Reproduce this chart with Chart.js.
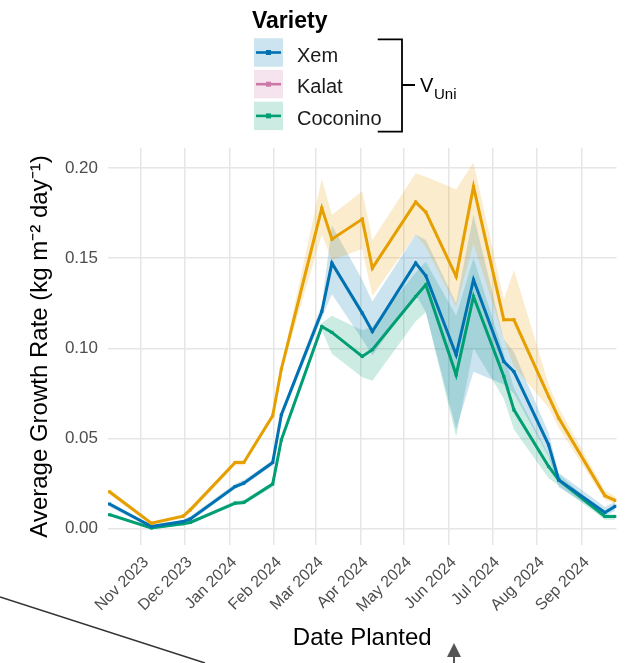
<!DOCTYPE html>
<html>
<head>
<meta charset="utf-8">
<script src="https://cdn.jsdelivr.net/npm/chart.js@4.4.1/dist/chart.umd.min.js"></script>
<style>
  html, body { margin: 0; padding: 0; background: #fff; }
</style>
</head>
<body>
<canvas id="growthChart" width="629" height="663"></canvas>
<script>
// planting dates
const plantDates = ['2023-10-10', '2023-11-08', '2023-11-30', '2023-12-05', '2024-01-05', '2024-01-11',
  '2024-01-31', '2024-02-06', '2024-03-05', '2024-03-12', '2024-04-02', '2024-04-09',
  '2024-05-09', '2024-05-16', '2024-06-06', '2024-06-18', '2024-07-09', '2024-07-16',
  '2024-08-09', '2024-08-16', '2024-09-17', '2024-09-24'];

// orange line (not listed in the legend)
const orangeMean = [0.0205, 0.0031, 0.0070, 0.0105, 0.0367, 0.0367, 0.0626, 0.0885, 0.1777, 0.1605, 0.1716, 0.1444,
  0.1810, 0.1755, 0.1398, 0.1896, 0.1158, 0.1158, 0.0733, 0.0613, 0.0183, 0.0157];
const orangeLow = [0.019, 0.002, 0.006, 0.009, 0.035, 0.035, 0.061, 0.087, 0.163, 0.149, 0.155, 0.129,
  0.163, 0.156, 0.123, 0.158, 0.105, 0.090, 0.067, 0.056, 0.016, 0.014];
const orangeHigh = [0.022, 0.004, 0.008, 0.012, 0.038, 0.038, 0.064, 0.090, 0.194, 0.174, 0.187, 0.160,
  0.197, 0.195, 0.188, 0.203, 0.127, 0.1435, 0.080, 0.067, 0.021, 0.018];

// Xem
const xemMean = [0.0137, 0.0013, 0.0040, 0.0054, 0.0234, 0.0253, 0.0367, 0.0632, 0.1204, 0.1472, 0.1195, 0.1093,
  0.1472, 0.1402, 0.0964, 0.1380, 0.0927, 0.0871, 0.0465, 0.0271, 0.0090, 0.0124];
const xemLow = [0.012, 0.0005, 0.003, 0.004, 0.022, 0.024, 0.035, 0.061, 0.117, 0.130, 0.105, 0.096,
  0.130, 0.120, 0.055, 0.087, 0.080, 0.075, 0.040, 0.023, 0.007, 0.010];
const xemHigh = [0.015, 0.002, 0.005, 0.007, 0.025, 0.027, 0.038, 0.065, 0.124, 0.168, 0.138, 0.126,
  0.163, 0.160, 0.125, 0.174, 0.105, 0.098, 0.053, 0.031, 0.012, 0.015];

// Coconino
const coconinoMean = [0.0078, 0.0004, 0.0028, 0.0035, 0.0142, 0.0146, 0.0248, 0.0493, 0.1121, 0.1088, 0.0955, 0.0992,
  0.1287, 0.1352, 0.0853, 0.1287, 0.0844, 0.0659, 0.0345, 0.0271, 0.0068, 0.0068];
const coconinoLow = [0.007, 0.0, 0.002, 0.003, 0.013, 0.0135, 0.023, 0.047, 0.110, 0.097, 0.084, 0.082,
  0.115, 0.120, 0.051, 0.100, 0.072, 0.055, 0.028, 0.024, 0.005, 0.005];
const coconinoHigh = [0.009, 0.001, 0.0035, 0.0045, 0.0155, 0.016, 0.026, 0.051, 0.114, 0.118, 0.110, 0.112,
  0.142, 0.148, 0.118, 0.150, 0.097, 0.078, 0.041, 0.030, 0.008, 0.008];

// axis ticks
const monthTicks = ['2023-11-01', '2023-12-01', '2024-01-01', '2024-02-01', '2024-03-01', '2024-04-01',
  '2024-05-01', '2024-06-01', '2024-07-01', '2024-08-01', '2024-09-01'];
const monthLabels = ['Nov 2023', 'Dec 2023', 'Jan 2024', 'Feb 2024', 'Mar 2024', 'Apr 2024',
  'May 2024', 'Jun 2024', 'Jul 2024', 'Aug 2024', 'Sep 2024'];
const yTicks = [0, 0.05, 0.10, 0.15, 0.20];

const legendNames = ['Xem', 'Kalat', 'Coconino'];
const legendColors = ['#0072B2', '#CC79A7', '#009E73'];

const FONT = '"Liberation Sans", Arial, Helvetica, sans-serif';

// days since 1 Nov 2023
function dayNum(s) {
  const p = s.split('-').map(Number);
  return (Date.UTC(p[0], p[1] - 1, p[2]) - Date.UTC(2023, 10, 1)) / 86400000;
}
const xDays = plantDates.map(dayNum);
const tickDays = monthTicks.map(dayNum);

function pts(arr) {
  return arr.map((v, i) => ({x: xDays[i], y: v}));
}
function alpha(hex, a) {
  const n = parseInt(hex.slice(1), 16);
  return `rgba(${n >> 16},${(n >> 8) & 255},${n & 255},${a})`;
}

function band(hi, lo, color) {
  return [
    {data: pts(hi), borderWidth: 0, pointRadius: 0, fill: '+1', backgroundColor: alpha(color, 0.2)},
    {data: pts(lo), borderWidth: 0, pointRadius: 0, fill: false}
  ];
}
function line(label, vals, color) {
  return {
    label: label, data: pts(vals), borderColor: color, backgroundColor: color,
    borderWidth: 3, pointStyle: 'rect', pointRadius: 2.2, pointBorderWidth: 0,
    fill: false, lineTension: 0
  };
}

// legend, bracket and the loose marks on the picture
const overlay = {
  id: 'overlay',
  afterDraw(chart) {
    const ctx = chart.ctx;
    ctx.save();
    ctx.fillStyle = '#000';
    ctx.textBaseline = 'alphabetic';
    ctx.font = 'bold 23px ' + FONT;
    ctx.fillText('Variety', 252, 28);

    legendNames.forEach((name, i) => {
      const top = 38.3 + i * 31.7;
      const cy = top + 14.2;
      ctx.fillStyle = alpha(legendColors[i], 0.2);
      ctx.fillRect(254, top, 29, 28.4);
      ctx.strokeStyle = legendColors[i];
      ctx.lineWidth = 2.6;
      ctx.beginPath();
      ctx.moveTo(256, cy);
      ctx.lineTo(281, cy);
      ctx.stroke();
      ctx.fillStyle = legendColors[i];
      ctx.fillRect(266, cy - 2.5, 5, 5);
      ctx.fillStyle = '#1a1a1a';
      ctx.font = '20px ' + FONT;
      ctx.fillText(name, 297, cy + 9);
    });

    // bracket
    ctx.strokeStyle = '#000';
    ctx.lineWidth = 1.8;
    ctx.beginPath();
    ctx.moveTo(377.7, 39.3);
    ctx.lineTo(402, 39.3);
    ctx.lineTo(402, 131.7);
    ctx.lineTo(377.7, 131.7);
    ctx.moveTo(402, 85);
    ctx.lineTo(415, 85);
    ctx.stroke();
    ctx.fillStyle = '#000';
    ctx.font = '20px ' + FONT;
    ctx.fillText('V', 420, 92);
    ctx.font = '15px ' + FONT;
    ctx.fillText('Uni', 434, 99);

    // diagonal stroke, bottom left
    ctx.strokeStyle = '#333';
    ctx.lineWidth = 1.5;
    ctx.beginPath();
    ctx.moveTo(0, 597);
    ctx.lineTo(205, 663);
    ctx.stroke();

    // arrow
    ctx.fillStyle = '#555';
    ctx.beginPath();
    ctx.moveTo(454, 643);
    ctx.lineTo(461, 657);
    ctx.lineTo(447, 657);
    ctx.closePath();
    ctx.fill();
    ctx.fillRect(453, 657, 2, 6);
    ctx.restore();
  }
};

const ctx = document.getElementById('growthChart');
const growthChart = new Chart(ctx, {
  type: 'line',
  data: {
    datasets: [
      ...band(orangeHigh, orangeLow, '#E69F00'),
      ...band(xemHigh, xemLow, legendColors[0]),
      ...band(coconinoHigh, coconinoLow, legendColors[2]),
      line('Other', orangeMean, '#E69F00'),
      line('Xem', xemMean, legendColors[0]),
      line('Coconino', coconinoMean, legendColors[2])
    ]
  },
  options: {
    responsive: false,
    animation: false,
    layout: {padding: {top: 148, right: 12.5, left: 0, bottom: 0}},
    plugins: {
      legend: {display: false},
      tooltip: {enabled: false},
      filler: {drawTime: 'beforeDatasetsDraw'}
    },
    scales: {
      x: {
        type: 'linear',
        min: -23,
        max: 329,
        afterBuildTicks: (scale) => { scale.ticks = tickDays.map(v => ({value: v})); },
        afterFit: (scale) => { scale.height = 118; },
        grid: {color: '#e6e6e6', lineWidth: 1.5, drawTicks: false},
        border: {display: false},
        ticks: {
          autoSkip: false, maxRotation: 45, minRotation: 45, padding: 8, labelOffset: 5,
          color: '#4d4d4d', font: {family: FONT, size: 16},
          callback: (v) => monthLabels[tickDays.indexOf(v)]
        },
        title: {display: true, text: 'Date Planted', color: '#000',
          font: {family: FONT, size: 24}, padding: {top: 0, bottom: 10}}
      },
      y: {
        min: -0.009,
        max: 0.211,
        afterBuildTicks: (scale) => { scale.ticks = yTicks.map(v => ({value: v})); },
        afterFit: (scale) => { scale.width = 108; },
        grid: {color: '#e6e6e6', lineWidth: 1.5, drawTicks: false},
        border: {display: false},
        ticks: {
          padding: 10, color: '#4d4d4d', font: {family: FONT, size: 17},
          callback: (v) => v.toFixed(2)
        },
        title: {display: true, text: 'Average Growth Rate (kg m\u207B\u00B2 day\u207B\u00B9)', color: '#000',
          font: {family: FONT, size: 24}, padding: {top: 26, bottom: 0}}
      }
    }
  },
  plugins: [overlay]
});
</script>
</body>
</html>
